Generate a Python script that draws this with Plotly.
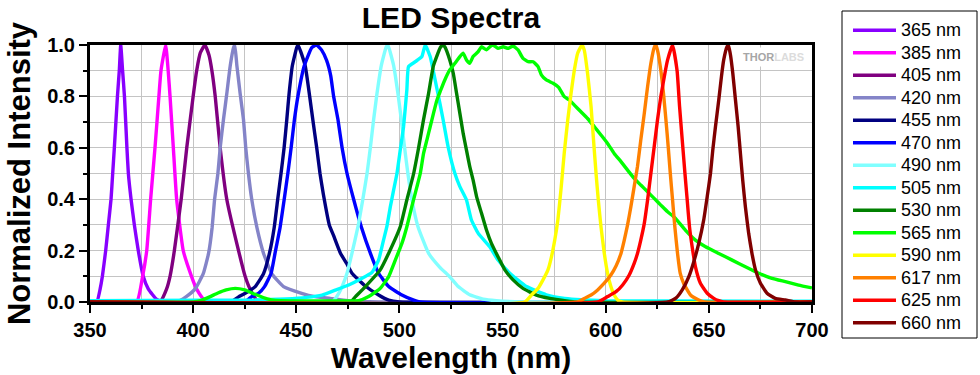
import plotly.graph_objects as go

# ---------------- data (wavelength nm, normalized intensity) ----------------
labels = ["365 nm", "385 nm", "405 nm", "420 nm", "455 nm", "470 nm", "490 nm",
          "505 nm", "530 nm", "565 nm", "590 nm", "617 nm", "625 nm", "660 nm"]
colors = ["#8800FF", "#FF00FF", "#800080", "#8484C8", "#000080", "#0000FF", "#80FFFF",
          "#00FFFF", "#008000", "#00FF00", "#FFFF00", "#FF8000", "#FF0000", "#800000"]

spec_365 = [(350, 0), (353.3, 0), (354.9, 0.05), (356.0, 0.1), (357.6, 0.2), (358.9, 0.3),
            (360.2, 0.4), (361.0, 0.5), (361.8, 0.6), (363.3, 0.8), (364.2, 0.9), (364.9, 1.0),
            (365.8, 0.9), (366.7, 0.8), (367.9, 0.6), (368.6, 0.5), (369.9, 0.4), (371.5, 0.3),
            (373.4, 0.2), (375.8, 0.1), (378.3, 0.05), (382.3, 0.01), (386, 0), (700, 0)]
spec_385 = [(350, 0), (372.6, 0), (375.5, 0.1), (377.5, 0.2), (379.4, 0.4), (381.5, 0.6),
            (383.4, 0.8), (384.4, 0.9), (386.7, 1.0), (387.9, 0.9), (388.8, 0.8), (390.4, 0.6),
            (392.0, 0.4), (395.2, 0.2), (399.2, 0.1), (401.7, 0.05), (406.5, 0), (700, 0)]
spec_405 = [(350, 0), (383.9, 0), (387.1, 0.05), (388.8, 0.1), (390.9, 0.2), (394.2, 0.4),
            (396.9, 0.6), (400.0, 0.8), (401.7, 0.9), (403.5, 0.97), (405.7, 1.0), (407.7, 0.96),
            (409.1, 0.9), (410.7, 0.8), (413.1, 0.6), (416.3, 0.4), (422.0, 0.2), (425.2, 0.1),
            (427.6, 0.05), (431.7, 0), (700, 0)]
spec_420 = [(350, 0), (392.0, 0), (396.5, 0.02), (400.9, 0.05), (404.9, 0.11), (407.5, 0.19),
            (409.2, 0.29), (410.4, 0.40), (412.0, 0.50), (413.1, 0.60), (414.7, 0.71),
            (416.3, 0.81), (418.0, 0.92), (419.6, 0.99), (420.2, 1.0), (421.2, 0.92),
            (422.8, 0.81), (424.4, 0.71), (425.5, 0.60), (426.8, 0.50), (428.4, 0.40),
            (430.9, 0.29), (434.1, 0.19), (438.1, 0.11), (443.8, 0.06), (452.6, 0.034),
            (459.1, 0.021), (466.4, 0.014), (475, 0.005), (490, 0), (700, 0)]
spec_455 = [(350, 0), (418, 0), (422.0, 0.02), (425.2, 0.034), (430.1, 0.06), (434.1, 0.11),
            (437.0, 0.19), (439.3, 0.29), (441.0, 0.40), (442.6, 0.50), (444.1, 0.60),
            (445.4, 0.71), (446.5, 0.81), (448.1, 0.92), (450.2, 0.99), (450.9, 1.0),
            (454.3, 0.92), (456.5, 0.80), (458.0, 0.71), (459.9, 0.60), (461.5, 0.50),
            (463.1, 0.42), (466.0, 0.30), (468.0, 0.26), (471.4, 0.19), (474.4, 0.15),
            (477.0, 0.112), (483.0, 0.065), (489.9, 0.027), (494.8, 0.007), (500, 0), (700, 0)]
spec_470 = [(350, 0), (425, 0), (428.4, 0.021), (431.7, 0.034), (434.6, 0.06), (437.8, 0.112),
            (439.7, 0.19), (442.2, 0.293), (444.1, 0.397), (445.9, 0.5), (447.5, 0.60),
            (449.1, 0.71), (451.0, 0.81), (453.9, 0.92), (457.5, 0.99), (459.9, 1.0),
            (462.3, 0.98), (464.7, 0.94), (466.7, 0.88), (468.1, 0.80), (470.2, 0.71),
            (472.2, 0.60), (474.6, 0.5), (477.8, 0.40), (481.5, 0.293), (485.9, 0.19),
            (489.9, 0.112), (494.8, 0.06), (501.2, 0.027), (506.0, 0.01), (510, 0), (700, 0)]
spec_490 = [(350, 0), (467.3, 0), (470.6, 0.034), (472.2, 0.06), (474.6, 0.112), (477.0, 0.19),
            (479.9, 0.293), (482.2, 0.397), (484.3, 0.5), (485.9, 0.60), (487.5, 0.71),
            (489.1, 0.81), (491.2, 0.92), (493.5, 0.99), (494.4, 1.0), (497.2, 0.92),
            (499.3, 0.81), (500.9, 0.71), (502.5, 0.60), (504.1, 0.5), (506.0, 0.40),
            (509.0, 0.293), (514.1, 0.19), (519.6, 0.135), (524.4, 0.098), (528.5, 0.06),
            (534.1, 0.028), (540.6, 0.011), (547, 0.005), (560, 0), (700, 0)]
spec_505 = [(350, 0.005), (430, 0.008), (445, 0.012), (455, 0.018), (462.5, 0.027),
            (468.9, 0.046), (475.4, 0.066), (481.9, 0.092), (486.7, 0.115), (489.9, 0.163),
            (492.3, 0.241), (493.9, 0.293), (495.6, 0.371), (497.2, 0.436), (498.8, 0.5),
            (500.4, 0.591), (502.0, 0.682), (503.6, 0.825), (504.4, 0.916), (507.7, 0.935),
            (510.9, 0.955), (512.5, 1.0), (514.9, 0.955), (517.3, 0.864), (519.7, 0.77),
            (521.2, 0.708), (523.6, 0.604), (526.9, 0.5), (529.3, 0.449), (532.5, 0.397),
            (534.9, 0.319), (538.2, 0.267), (543.8, 0.215), (547.8, 0.163), (553.5, 0.112),
            (561.6, 0.06), (571.2, 0.028), (580.1, 0.014), (600, 0.005), (700, 0.003)]
spec_530 = [(350, 0), (476.2, 0), (478.6, 0.02), (483.5, 0.06), (490.7, 0.125), (494.8, 0.19),
            (500.4, 0.293), (503.6, 0.397), (506.9, 0.5), (509.3, 0.60), (511.7, 0.71),
            (514.1, 0.81), (516.5, 0.92), (519.8, 0.99), (521.0, 1.0), (522.0, 0.993),
            (524.4, 0.942), (526.1, 0.89), (527.7, 0.812), (529.3, 0.734), (530.9, 0.656),
            (532.5, 0.591), (534.1, 0.527), (535.7, 0.475), (537.4, 0.41), (539.8, 0.345),
            (542.2, 0.28), (544.6, 0.228), (547.8, 0.176), (551.1, 0.125), (555.1, 0.086),
            (559.9, 0.053), (566.4, 0.027), (572.9, 0.014), (577.7, 0.008), (585, 0), (700, 0)]
spec_565 = [(350, 0), (400, 0), (403.5, 0.005), (408, 0.02), (412, 0.035), (416, 0.047),
            (420.4, 0.053), (425, 0.047), (430, 0.03), (435.9, 0.012), (440, 0.006),
            (470, 0.004), (480.2, 0.005), (485.1, 0.021), (490.7, 0.053), (494.8, 0.099),
            (498.0, 0.163), (501.2, 0.228), (503.6, 0.293), (506.0, 0.371), (508.5, 0.449),
            (510.1, 0.5), (511.7, 0.578), (513.3, 0.63), (514.9, 0.682), (516.5, 0.734),
            (518.2, 0.786), (519.8, 0.82), (522.0, 0.864), (524.4, 0.903), (526.9, 0.929),
            (529.3, 0.955), (530.9, 0.968), (532.5, 0.942), (534.1, 0.929), (535.7, 0.955),
            (538.2, 0.974), (539.8, 0.993), (542.2, 0.981), (543.8, 0.993), (545.4, 1.0),
            (547.8, 0.987), (550.3, 0.993), (552.7, 0.987), (555.1, 0.996), (557.5, 0.981),
            (559.9, 0.948), (562.4, 0.935), (564.8, 0.935), (567.2, 0.916), (568.8, 0.884),
            (571.2, 0.864), (574.5, 0.851), (577.2, 0.835), (579.9, 0.799), (582.4, 0.786),
            (584.8, 0.766), (588.0, 0.74), (591.2, 0.714), (594.5, 0.682), (597.7, 0.65),
            (600.9, 0.617), (604.1, 0.578), (607.4, 0.546), (610.6, 0.513), (613.8, 0.481),
            (617.0, 0.455), (620.3, 0.429), (623.5, 0.403), (626.7, 0.377), (630.0, 0.351),
            (633.5, 0.328), (638.7, 0.279), (643.5, 0.241), (648.4, 0.215), (654.8, 0.189),
            (661.3, 0.163), (667.7, 0.137), (674.2, 0.112), (680.6, 0.092), (687.1, 0.079),
            (693.5, 0.066), (700, 0.055)]
spec_590 = [(350, 0), (560.7, 0), (564, 0.027), (567.2, 0.053), (569.6, 0.086), (572, 0.125),
            (573.7, 0.176), (575.3, 0.241), (576.8, 0.319), (578.4, 0.445), (579.9, 0.58),
            (581.6, 0.708), (583.2, 0.812), (584.8, 0.903), (586.4, 0.968), (588.5, 1.0),
            (589.6, 0.98), (591.2, 0.89), (592.9, 0.76), (594.1, 0.63), (595.3, 0.501),
            (596.4, 0.397), (597.7, 0.293), (599.3, 0.19), (600.9, 0.112), (602.5, 0.06),
            (604.1, 0.027), (605.8, 0.008), (608, 0), (700, 0)]
spec_617 = [(350, 0), (586.4, 0), (589.6, 0.014), (592.9, 0.027), (596.1, 0.047),
            (599.3, 0.073), (602.5, 0.105), (605, 0.14), (607.4, 0.189), (609, 0.241),
            (610.6, 0.3), (612.2, 0.371), (613.8, 0.449), (615.4, 0.527), (617, 0.63),
            (618.7, 0.734), (620.3, 0.838), (621.9, 0.929), (623.5, 0.99), (624.3, 1.0),
            (625.1, 0.98), (626.7, 0.903), (628, 0.812), (629.2, 0.708), (630.3, 0.604),
            (631.3, 0.501), (632.4, 0.397), (633.5, 0.293), (634.8, 0.19), (636.1, 0.112),
            (637.9, 0.07), (641.1, 0.027), (645.1, 0.008), (648, 0), (700, 0)]
spec_625 = [(350, 0), (596.1, 0), (600.9, 0.021), (605, 0.04), (608.2, 0.066), (611.4, 0.105),
            (613.8, 0.15), (615.4, 0.189), (617, 0.241), (618.7, 0.306), (620.3, 0.397),
            (621.9, 0.501), (623.5, 0.604), (625.1, 0.708), (626.7, 0.799), (628.4, 0.877),
            (630, 0.942), (632.4, 1.0), (634.6, 0.9), (635.8, 0.761), (637.1, 0.63),
            (638.4, 0.501), (639.5, 0.397), (640.6, 0.293), (641.9, 0.215), (643.5, 0.137),
            (645.9, 0.073), (649.2, 0.034), (652.4, 0.014), (654.8, 0.005), (657, 0), (700, 0)]
spec_660 = [(350, 0), (630, 0), (634, 0.015), (637.1, 0.047), (640.3, 0.099), (642.7, 0.157),
            (645.1, 0.228), (647.5, 0.319), (649.2, 0.41), (650.8, 0.501), (651.9, 0.591),
            (653.2, 0.682), (654.8, 0.786), (656.1, 0.877), (657.2, 0.942), (658.8, 0.993),
            (659.5, 1.0), (660.5, 0.96), (661.6, 0.89), (662.9, 0.786), (664.2, 0.682),
            (665.3, 0.578), (666.4, 0.475), (667.7, 0.371), (669.3, 0.267), (670.9, 0.189),
            (672.6, 0.125), (675, 0.073), (678.2, 0.034), (682.2, 0.014), (687.1, 0.008),
            (692, 0), (700, 0)]

spectra = [spec_365, spec_385, spec_405, spec_420, spec_455, spec_470, spec_490,
           spec_505, spec_530, spec_565, spec_590, spec_617, spec_625, spec_660]

x_range = [350, 700]
y_range = [0, 1]

FONT = "Liberation Sans, Arial, sans-serif"
GRID = "#C4C4C4"

# plot-area geometry (px) used for paper-coordinate placement
L, R, T, B = 90, 812, 45, 302
PW, PH = R - L, B - T

fig = go.Figure()
for lab, col, spec in zip(labels, colors, spectra):
    fig.add_trace(go.Scatter(
        x=[p[0] for p in spec], y=[p[1] for p in spec], mode="lines",
        name='<span style="font-size:18px">' + lab + '</span>',
        line=dict(color=col, width=3.4, shape="spline", smoothing=0.4),
        hoverinfo="x+y+name"))

fig.update_layout(
    width=980, height=375,
    margin=dict(l=L, r=980 - R, t=T, b=375 - B, autoexpand=False),
    paper_bgcolor="white", plot_bgcolor="white",
    font=dict(family=FONT, color="black"),
    title=dict(text="LED Spectra", x=451 / 980, xanchor="center",
               y=1 - 17 / 375, yanchor="middle",
               font=dict(family=FONT, size=30, color="black", weight="bold")),
    showlegend=True,
    legend=dict(x=(848 - L) / PW, y=(B - 14) / PH, xanchor="left", yanchor="top",
                bgcolor="rgba(0,0,0,0)", borderwidth=0, maxheight=360,
                font=dict(family=FONT, size=15, color="black"),
                itemwidth=43, tracegroupgap=0),
    shapes=[dict(type="rect", xref="paper", yref="paper",
                 x0=(842 - L) / PW, x1=(977 - L) / PW,
                 y0=(B - 338) / PH, y1=(B - 11) / PH,
                 line=dict(color="black", width=1), fillcolor="rgba(0,0,0,0)")],
    annotations=[dict(x=681.5, y=0.955, xref="x", yref="y", showarrow=False,
                      text='<b>THOR</b><span style="color:#DCDCDC"><b>LABS</b></span>',
                      font=dict(family=FONT, size=11, color="#A6A6A6"),
                      bgcolor="white", borderpad=3)],
)

fig.update_xaxes(
    range=x_range, tick0=350, dtick=50, ticks="outside", ticklen=8, tickwidth=2,
    tickcolor="black", showline=True, linewidth=3, linecolor="black", mirror=True,
    showgrid=True, gridcolor=GRID, gridwidth=1, zeroline=False, layer="below traces",
    tickfont=dict(family=FONT, size=20, weight="bold"),
    minor=dict(dtick=25, ticks="outside", ticklen=4, tickwidth=2, tickcolor="black",
               showgrid=True, gridcolor=GRID, gridwidth=1),
    title=dict(text="Wavelength (nm)", standoff=6,
               font=dict(family=FONT, size=30, weight="bold")),
    automargin=False)

fig.update_yaxes(
    range=y_range, tick0=0, dtick=0.2, tickformat=".1f", ticks="outside", ticklen=8,
    tickwidth=2, tickcolor="black", showline=True, linewidth=3, linecolor="black",
    mirror=True, showgrid=True, gridcolor=GRID, gridwidth=1, zeroline=False,
    layer="below traces",
    tickfont=dict(family=FONT, size=20, weight="bold"),
    minor=dict(dtick=0.1, ticks="outside", ticklen=4, tickwidth=2, tickcolor="black",
               showgrid=True, gridcolor=GRID, gridwidth=1),
    title=dict(text="Normalized Intensity", standoff=8,
               font=dict(family=FONT, size=31, weight="bold")),
    automargin=False)

fig.write_html("out.html", config={"displayModeBar": False},
               post_script="document.body.style.margin='0';document.body.style.padding='0';")
